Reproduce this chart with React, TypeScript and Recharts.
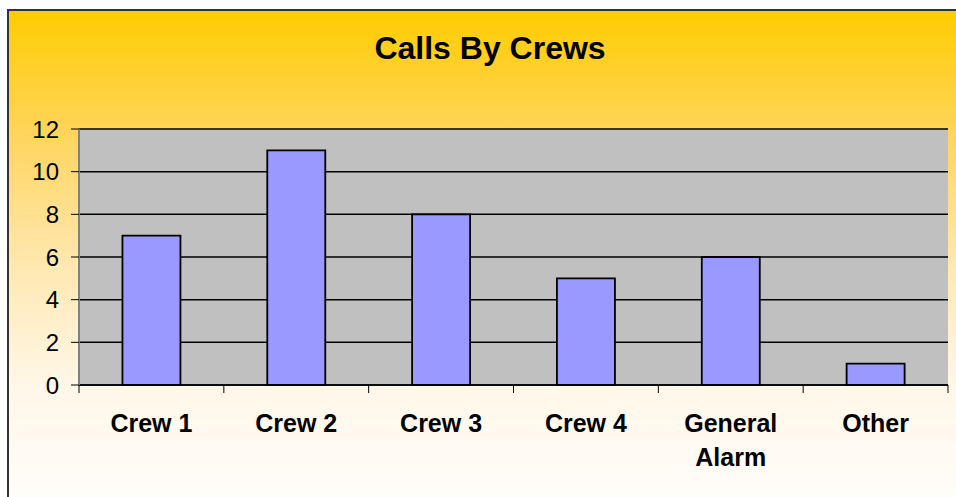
import { Bar, BarChart, CartesianGrid, XAxis, YAxis } from "recharts"

const crews = ["Crew 1", "Crew 2", "Crew 3", "Crew 4", "General Alarm", "Other"]
const calls = [7, 11, 8, 5, 6, 1]
const yTicks = [0, 2, 4, 6, 8, 10, 12]

const data = crews.map((crew, i) => ({ crew, calls: calls[i] }))

const font = "Arial, 'Liberation Sans', sans-serif"
const LABEL_GAP = 29

// splits long labels onto two lines like the original
function wrap(label: string) {
  if (label.length <= 8) return [label]
  return label.split(" ")
}

function CrewTick(props: any) {
  const { x, y, payload, index } = props
  const half = payload.offset ?? 72.4
  const axisY = y - LABEL_GAP
  const lines = wrap(String(payload.value))
  return (
    <g>
      <line x1={x - half} x2={x - half} y1={axisY} y2={axisY + 8} stroke="#000" />
      {index === crews.length - 1 && (
        <line x1={x + half} x2={x + half} y1={axisY} y2={axisY + 8} stroke="#000" />
      )}
      <text
        x={x}
        y={y}
        textAnchor="middle"
        fill="#000"
        style={{ fontSize: 25, fontWeight: "bold", fontFamily: font }}
      >
        {lines.map((l, i) => (
          <tspan key={i} x={x} dy={i === 0 ? "0.71em" : "1.36em"}>
            {l}
          </tspan>
        ))}
      </text>
    </g>
  )
}

export default function App() {
  return (
    <div style={{ position: "fixed", inset: 0, overflow: "hidden", background: "#fff" }}>
      <div
        style={{
          position: "absolute",
          left: 7,
          top: 9,
          width: 960,
          height: 500,
          border: "2px solid #333",
          background:
            "linear-gradient(#FFCC00 0%, #FFD55E 25%, #FFE7AE 50%, #FFF7E8 75%, #FFFEFC 100%)",
        }}
      >
        <div
          style={{
            position: "absolute",
            left: 0,
            top: 21,
            width: 962,
            textAlign: "center",
            fontFamily: font,
            fontWeight: "bold",
            fontSize: 32,
            lineHeight: "32px",
            color: "#000",
          }}
        >
          Calls By Crews
        </div>
        <div style={{ position: "absolute", left: 0, top: 0 }}>
          <BarChart
            width={946}
            height={486}
            data={data}
            margin={{ top: 118, right: 7, left: 0, bottom: 0 }}
            barCategoryGap="30%"
          >
            <CartesianGrid
              xAxisId="cat"
              yAxisId="l"
              vertical={false}
              stroke="#000"
              strokeWidth={1.5}
              fill="#C0C0C0"
              fillOpacity={1}
            />
            <XAxis
              xAxisId="cat"
              dataKey="crew"
              height={112}
              interval={0}
              tickLine={false}
              tickSize={0}
              tickMargin={LABEL_GAP}
              axisLine={{ stroke: "#000", strokeWidth: 1.5 }}
              tick={<CrewTick />}
            />
            <XAxis
              xAxisId="top"
              orientation="top"
              dataKey="crew"
              height={0}
              tick={false}
              tickLine={false}
              axisLine={{ stroke: "#808080", strokeWidth: 2.5 }}
            />
            <YAxis
              yAxisId="l"
              width={70}
              domain={[0, 12]}
              ticks={yTicks}
              interval={0}
              tickSize={8}
              tickMargin={12}
              tickLine={{ stroke: "#000", strokeWidth: 1 }}
              axisLine={{ stroke: "#808080", strokeWidth: 2 }}
              tick={{ fill: "#000", fontSize: 24, fontFamily: font }}
            />
            <YAxis
              yAxisId="r"
              orientation="right"
              width={0}
              domain={[0, 12]}
              tick={false}
              tickLine={false}
              axisLine={{ stroke: "#808080", strokeWidth: 2 }}
            />
            <Bar
              xAxisId="cat"
              yAxisId="l"
              dataKey="calls"
              fill="#9999FF"
              stroke="#000"
              strokeWidth={1.8}
              isAnimationActive={false}
            />
          </BarChart>
        </div>
      </div>
    </div>
  )
}
